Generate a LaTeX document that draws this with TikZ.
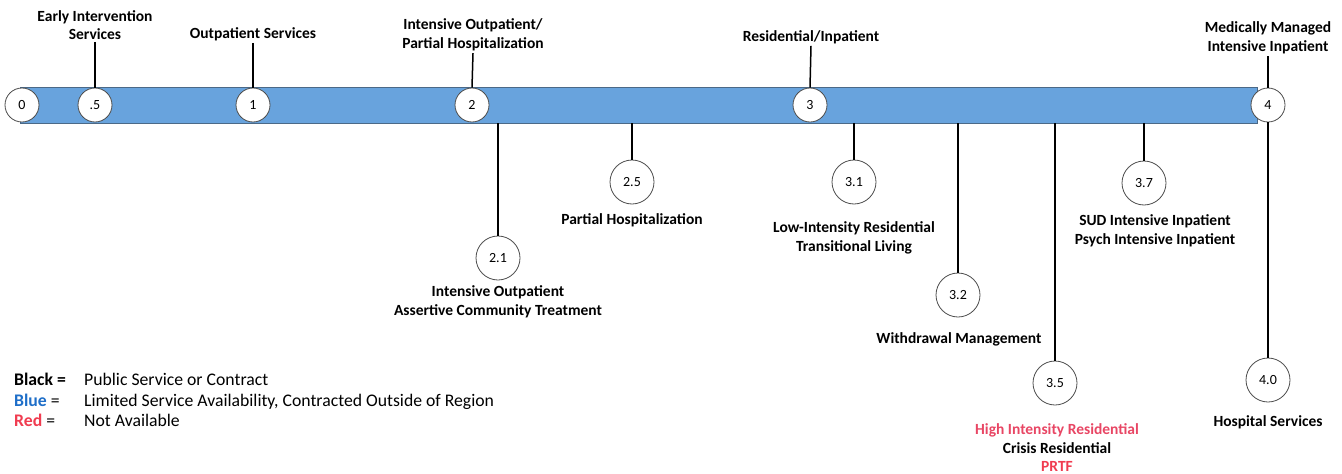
\documentclass[tikz,border=0pt]{standalone}
\usepackage{fontspec}
\setmainfont{Carlito}
\usetikzlibrary{positioning}
\definecolor{barblue}{RGB}{104,163,221}
\definecolor{baredge}{RGB}{75,105,135}
\definecolor{legblue}{RGB}{30,110,200}
\definecolor{legred}{RGB}{240,60,80}
\definecolor{hired}{RGB}{232,70,100}
\tikzset{
  lvl/.style={circle, draw=gray!60!black, fill=white, line width=0.8pt,
    minimum size=34pt, inner sep=0pt, font=\fontsize{14}{16}\selectfont},
  sublvl/.style={lvl, minimum size=44pt},
  lbl/.style={align=center, inner sep=2pt, font=\bfseries\fontsize{15.5}{18.5}\selectfont},
  legend/.style={anchor=base west, inner sep=0pt, font=\fontsize{17.7}{20}\selectfont},
  conn/.style={line width=1.5pt},
}

\begin{document}
\begin{tikzpicture}[x=1pt, y=-1pt]
    \useasboundingbox (0,0) rectangle (1342,474);
    % the continuum bar
    \node[fill=barblue, draw=baredge, line width=0.8pt, minimum width=1237pt,
      minimum height=36pt, inner sep=0pt, anchor=west] (bar) at (20,105) {};
    \foreach \n/\x/\t in {0/22/0, 05/95/.5, 1/253/1, 2/472/2, 3/810/3, 4/1268/4}
      \node[lvl] (c\n) at (\x,105) {\t};

    % levels above the bar
    \node[lbl] (l05) at (95,25) {Early Intervention\\Services};
    \node[lbl] (l1) at (253,34) {Outpatient Services};
    \node[lbl] (l2) at (473,35) {Intensive Outpatient/\\Partial Hospitalization};
    \node[lbl] (l3) at (811,37) {Residential/Inpatient};
    \node[lbl] (l4) at (1268,38) {Medically Managed\\Intensive Inpatient};
    \foreach \n in {05,1,2,3,4}
      \draw[conn] (l\n.south) -- (c\n.north);

    % sub levels below the bar
    \foreach \n/\x/\y/\t in {21/498/258/2.1, 25/632/182/2.5, 31/854/182/3.1,
      32/958/295/3.2, 35/1055/383/3.5, 37/1144/183/3.7}
    {
      \node[sublvl] (c\n) at (\x,\y) {\t};
      \draw[conn] (c\n.north |- bar.south) -- (c\n.north);
    }
    \node[sublvl] (c40) at (1268,380) {4.0};
    \draw[conn] (c4.south) -- (c40.north);

    \node[lbl] (l21) at (498,302) {Intensive Outpatient\\Assertive Community Treatment};
    \node[lbl] (l25) at (632,220) {Partial Hospitalization};
    \node[lbl] (l31) at (854,238) {Low-Intensity Residential\\Transitional Living};
    \node[lbl] (l32) at (959,339) {Withdrawal Management};
    \node[lbl] (l35) at (1057,448) {\textcolor{hired}{High Intensity Residential}\\
      Crisis Residential\\\textcolor{legred}{PRTF}};
    \node[lbl] (l37) at (1155,231) {SUD Intensive Inpatient\\Psych Intensive Inpatient};
    \node[lbl] (l40) at (1268,422) {Hospital Services};

    % legend
    \node[legend] (kblack) at (14,385) {\textbf{Black =}};
    \node[legend] (kblue) at (14,406) {\textbf{\textcolor{legblue}{Blue}} =};
    \node[legend] (kred) at (14,426) {\textbf{\textcolor{legred}{Red}} =};
    \node[legend] (tblack) at (84,385) {Public Service or Contract};
    \node[legend] (tblue) at (84,406) {Limited Service Availability, Contracted Outside of Region};
    \node[legend] (tred) at (84,426) {Not Available};
\end{tikzpicture}
\end{document}
